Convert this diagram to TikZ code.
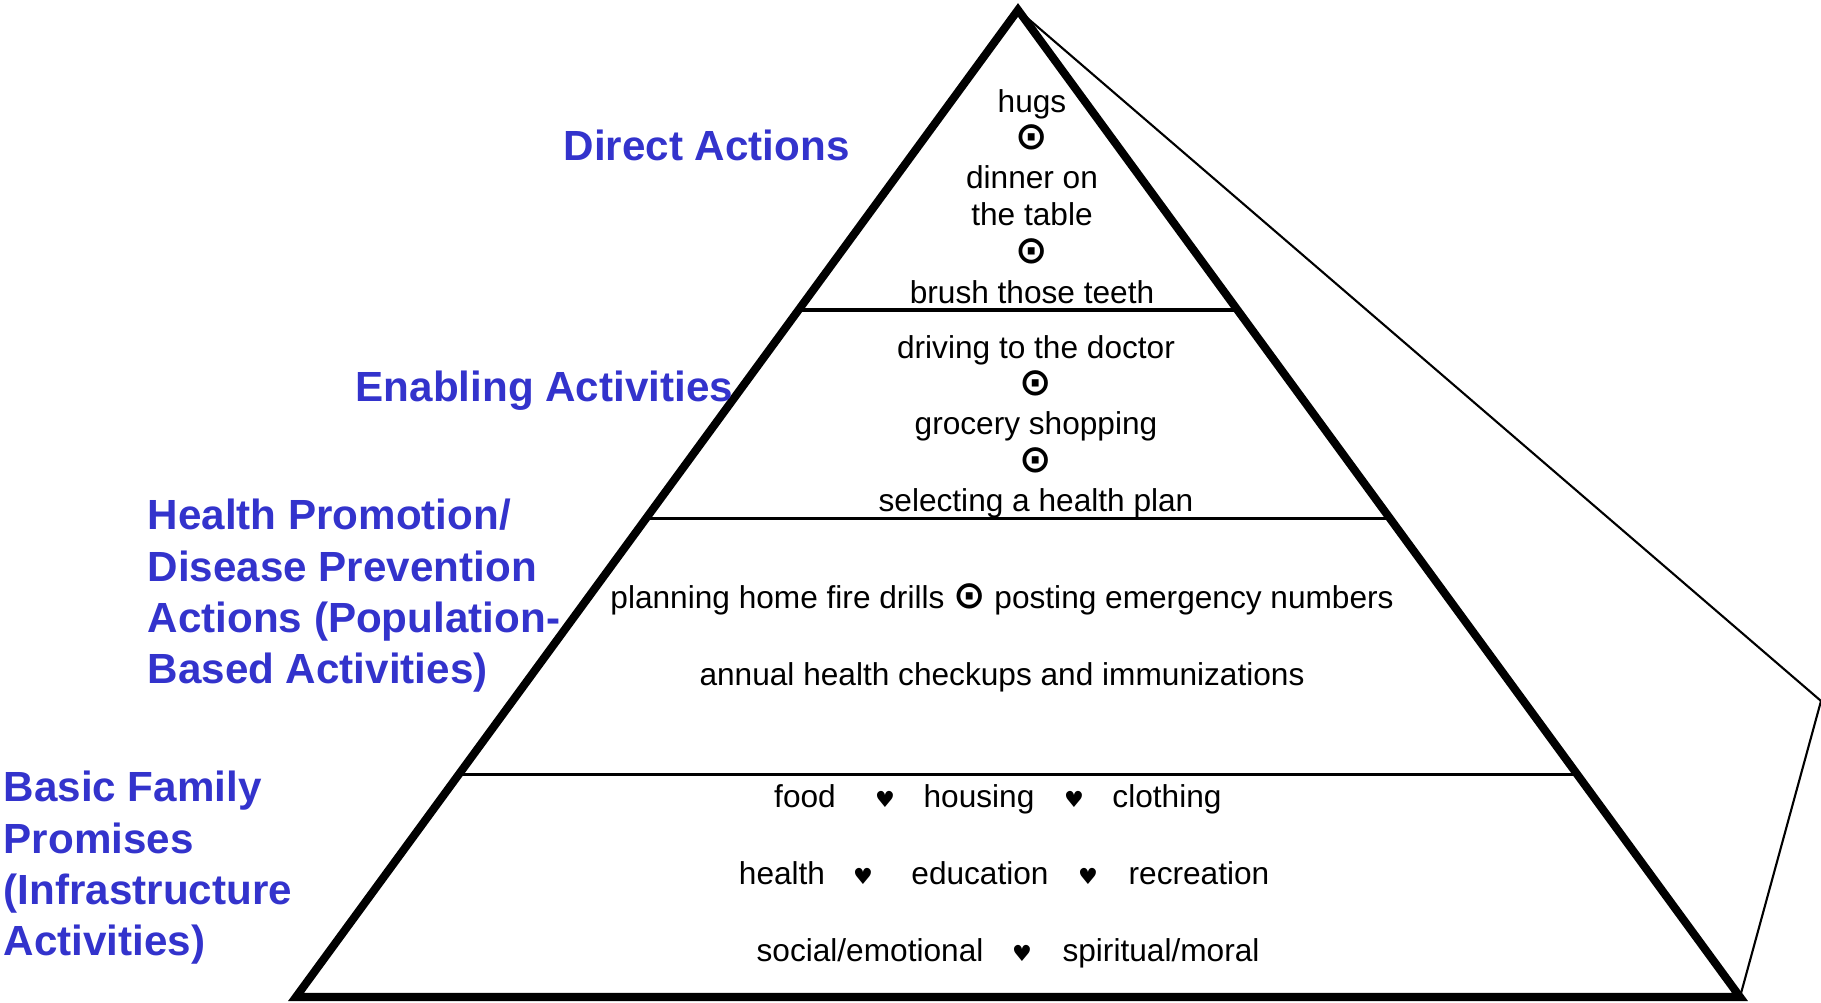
\documentclass[tikz,border=0pt]{standalone}
\usepackage{fontspec}
\setmainfont{Liberation Sans}
\newfontfamily\symfont{DejaVu Sans}
\usepackage{xcolor}
\usetikzlibrary{calc}
\definecolor{tierblue}{RGB}{51,51,204}
\newcommand{\hrt}{{\symfont\fontsize{6.3}{8}\selectfont\char"2665}}
\newcommand{\dotsep}{{\symfont\bfseries\fontsize{11}{11}\selectfont\char"2299}}

\begin{document}
\begin{tikzpicture}[
  item/.style={font=\fontsize{9}{11}\selectfont,inner sep=1pt,text height=7pt,text depth=2pt},
  tier/.style={text=tierblue,font=\fontsize{12}{14.6}\selectfont\bfseries,align=left,anchor=west,inner sep=0pt}]
\useasboundingbox (0,0) rectangle (18.21,10.03);
  \coordinate (apex) at (10.18,9.93);
  \coordinate (bl) at (2.96,0.06);
  \coordinate (br) at (17.40,0.06);
  \coordinate (face) at (18.21,3.02);
      % side face
      \draw[line width=0.6pt] (apex) -- (face) -- (br);
      % tier lines
      \foreach \t in {0.696,0.485,0.225}
        \draw[line width=0.9pt] ($(bl)!\t!(apex)$) -- ($(br)!\t!(apex)$);
      \draw[line width=2.3pt,line join=miter] (apex) -- (bl) -- (br) -- cycle;
      % top tier
      \foreach \y/\txt [count=\i] in {8.99/hugs,8.62/\dotsep,8.23/dinner on,7.86/the table,7.48/\dotsep,7.08/brush those teeth}
        \node[item] (top\i) at (10.32,\y) {\txt};
      % second tier
      \foreach \y/\txt [count=\i] in {6.53/driving to the doctor,6.16/\dotsep,5.77/grocery shopping,5.39/\dotsep,5.00/selecting a health plan}
        \node[item] (mid\i) at (10.36,\y) {\txt};
      % third tier
      \node[item] (fire) at (10.02,4.03) {planning home fire drills \dotsep{} posting emergency numbers};
      \node[item] (checkup) at (10.02,3.26) {annual health checkups and immunizations};
      % base tier
      \foreach \x/\txt [count=\i] in {8.05/food,8.85/\hrt,9.79/housing,10.74/\hrt,11.67/clothing}
        \node[item] (rowa\i) at (\x,2.04) {\txt};
      \foreach \x/\txt [count=\i] in {7.82/health,8.63/\hrt,9.80/education,10.88/\hrt,11.99/recreation}
        \node[item] (rowb\i) at (\x,1.27) {\txt};
      \foreach \x/\txt [count=\i] in {8.70/{social/emotional},10.22/\hrt,11.61/{spiritual/moral}}
        \node[item] (rowc\i) at (\x,0.50) {\txt};
      % labels
      \node[tier] (direct) at (5.63,8.58) {Direct Actions};
      \node[tier] (enabling) at (3.55,6.12) {Enabling Activities};
      \node[tier] (promo) at (1.47,4.07) {Health Promotion/\\Disease Prevention\\Actions (Population-\\Based Activities)};
      \node[tier] (basic) at (0.03,1.35) {Basic Family\\Promises\\(Infrastructure\\Activities)};
\end{tikzpicture}
\end{document}
